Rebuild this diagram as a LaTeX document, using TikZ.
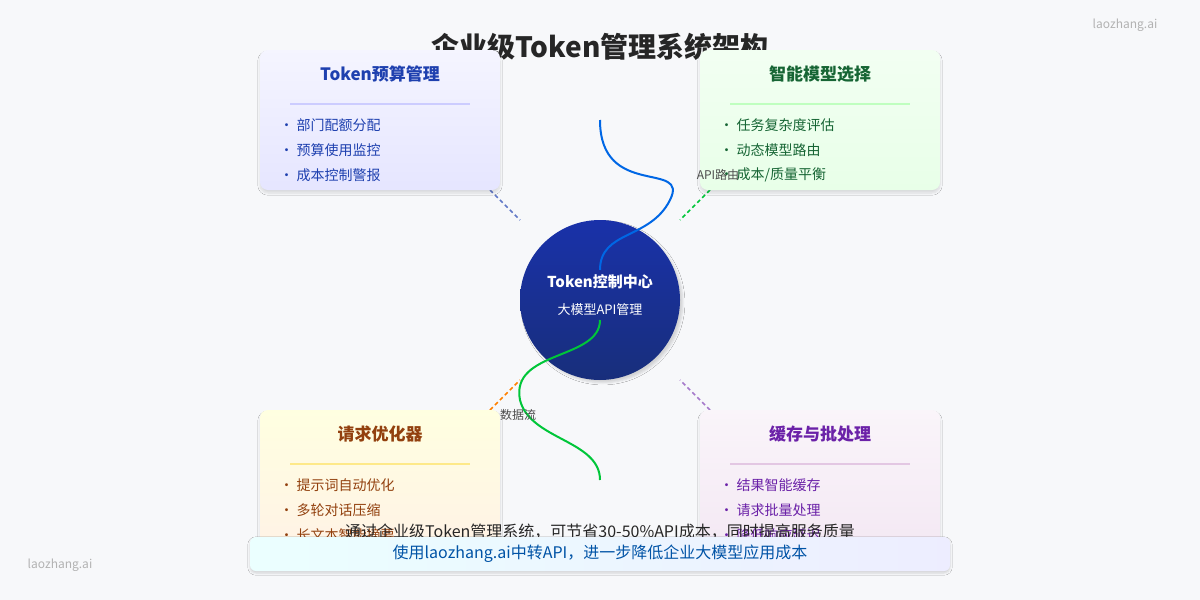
\documentclass[tikz,border=0pt]{standalone}
\usepackage{fontspec}
\setmainfont{Noto Sans CJK SC}
\usetikzlibrary{shadows.blur}
\definecolor{bg}{HTML}{F7F8FA}
\definecolor{cb}{HTML}{1E40AF}
\definecolor{cg}{HTML}{166534}
\definecolor{co}{HTML}{92400E}
\definecolor{cp}{HTML}{6B21A8}
\definecolor{circ}{HTML}{1E3A9A}
\tikzset{
 x=1pt,y=-1pt,
 card/.style={rounded corners=8pt,blur shadow={shadow blur steps=8,shadow xshift=0pt,shadow yshift=-3pt,shadow opacity=12}},
 ttl/.style={font=\fontsize{17}{20}\selectfont\bfseries},
 itm/.style={font=\fontsize{14}{16}\selectfont,anchor=west},
 dsh/.style={line width=1.5pt,dash pattern=on 4pt off 3pt},
}
\begin{document}
\begin{tikzpicture}
\fill[bg] (0,0) rectangle (1200,600);
\useasboundingbox (0,0) rectangle (1200,600);
\node[font=\fontsize{12}{14}\selectfont,text=gray!60] (wm1) at (1125,25) {laozhang.ai};
\node[font=\fontsize{12}{14}\selectfont,text=gray!60] (wm2) at (60,565) {laozhang.ai};
\node[font=\fontsize{28}{32}\selectfont\bfseries,text=black!85] (title) at (600,47) {企业级Token管理系统架构};
\coordinate (a1) at (490,190); \coordinate (a2) at (520,220);
\coordinate (b1) at (710,190); \coordinate (b2) at (680,220);
\coordinate (c1) at (490,410); \coordinate (c2) at (520,380);
\coordinate (d1) at (710,410); \coordinate (d2) at (680,380);
\draw[dsh,cb!70] (a1)--(a2);
\draw[dsh,green!55!teal] (b1)--(b2);
\draw[dsh,orange] (c1)--(c2);
\draw[dsh,cp!60] (d1)--(d2);
\shade[card,top color=blue!4,bottom color=blue!10] (260,50) rectangle (500,190);
\shade[card,top color=green!5,bottom color=green!9] (700,50) rectangle (940,190);
\shade[card,top color=yellow!12,bottom color=orange!10] (260,410) rectangle (500,550);
\shade[card,top color=violet!4,bottom color=violet!9] (700,410) rectangle (940,550);
\draw[blue!20,line width=1.5pt] (290,104)--(470,104);
\draw[green!25,line width=1.5pt] (730,104)--(910,104);
\draw[yellow!70!orange!45,line width=1.5pt] (290,464)--(470,464);
\draw[violet!22,line width=1.5pt] (730,464)--(910,464);
\node[ttl,text=cb] (t1) at (380,74) {Token预算管理};
\node[ttl,text=cg] (t2) at (820,74) {智能模型选择};
\node[ttl,text=co] (t3) at (380,434) {请求优化器};
\node[ttl,text=cp] (t4) at (820,434) {缓存与批处理};
\begin{scope}[text=cb]
\node[itm] (i11) at (276,125) {• 部门配额分配};
\node[itm] (i12) at (276,150) {• 预算使用监控};
\node[itm] (i13) at (276,175) {• 成本控制警报};
\end{scope}
\begin{scope}[text=cg]
\node[itm] (i21) at (716,125) {• 任务复杂度评估};
\node[itm] (i22) at (716,150) {• 动态模型路由};
\node[itm] (i23) at (716,175) {• 成本/质量平衡};
\end{scope}
\begin{scope}[text=co]
\node[itm] (i31) at (276,485) {• 提示词自动优化};
\node[itm] (i32) at (276,510) {• 多轮对话压缩};
\node[itm] (i33) at (276,535) {• 长文本智能摘要};
\end{scope}
\begin{scope}[text=cp]
\node[itm] (i41) at (716,485) {• 结果智能缓存};
\node[itm] (i42) at (716,510) {• 请求批量处理};
\node[itm] (i43) at (716,535) {• 降低响应延迟};
\end{scope}
\shade[top color=circ!85!blue,bottom color=circ!80!black,blur shadow={shadow opacity=15}] (600,300) circle (80);
\node[font=\fontsize{15}{18}\selectfont\bfseries,text=white] (c) at (600,282) {Token控制中心};
\node[font=\fontsize{13}{16}\selectfont,text=white] (c2) at (600,310) {大模型API管理};
\coordinate (f1) at (600,120); \coordinate (f2) at (600,270);
\coordinate (g1) at (600,320); \coordinate (g2) at (600,480);
\draw[blue!55!cyan!90!black,line width=2pt] (f1) .. controls (600,200) and (690,160) .. (670,200) .. controls (650,240) and (600,230) .. (f2);
\draw[green!55!teal,line width=2pt] (g1) .. controls (600,360) and (510,350) .. (520,400) .. controls (530,440) and (600,440) .. (g2);
\node[font=\fontsize{12}{14}\selectfont,text=black!70] (l1) at (718,175) {API路由};
\node[font=\fontsize{12}{14}\selectfont,text=black!70] (l2) at (518,415) {数据流};
\node[font=\fontsize{16}{19}\selectfont,text=black!85] (note) at (600,532) {通过企业级Token管理系统，可节省30-50\%API成本，同时提高服务质量};
\shade[rounded corners=6pt,left color=cyan!8,right color=blue!7,blur shadow={shadow opacity=15,shadow xshift=0pt,shadow yshift=-2pt}] (250,537) rectangle (950,571);
\node[font=\fontsize{16}{19}\selectfont,text=blue!50!cyan!65!black] (ban) at (600,554) {使用laozhang.ai中转API，进一步降低企业大模型应用成本};
\end{tikzpicture}
\end{document}
